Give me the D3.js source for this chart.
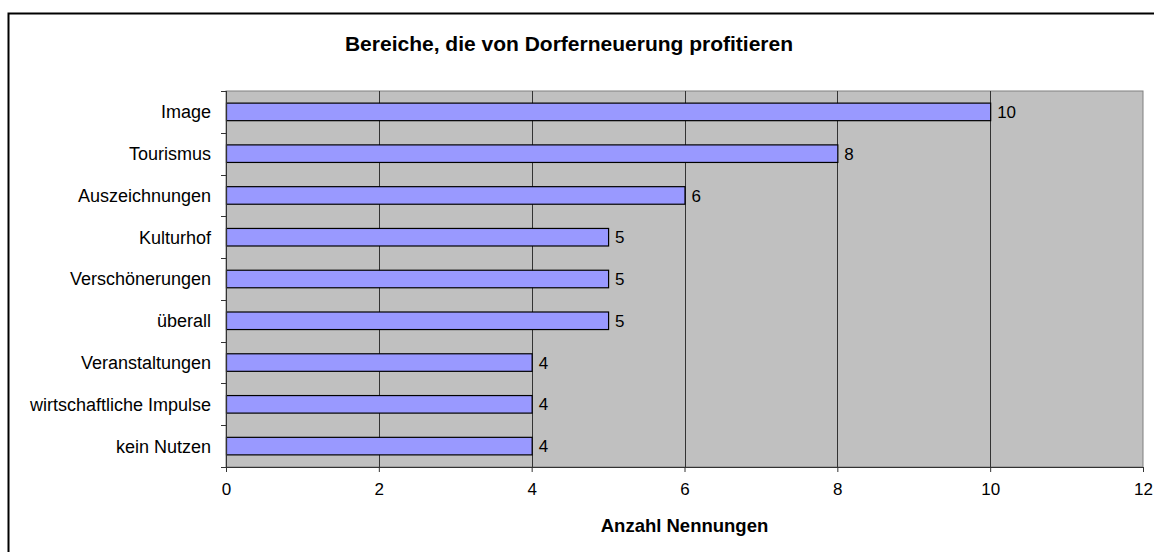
<!DOCTYPE html>
<html>
<head>
<meta charset="utf-8">
<script src="https://cdn.jsdelivr.net/npm/d3@7"></script>
<style>
  body { margin: 0; background: #fff; overflow: hidden; }
  svg { display: block; }
  text { font-family: "Liberation Sans", Arial, sans-serif; fill: #000; }
</style>
</head>
<body>
<div class="chart"></div>
<script>
var categories = ["Image", "Tourismus", "Auszeichnungen", "Kulturhof", "Verschönerungen",
  "überall", "Veranstaltungen", "wirtschaftliche Impulse", "kein Nutzen"];
var counts = [10, 8, 6, 5, 5, 5, 4, 4, 4];
var xTicks = [0, 2, 4, 6, 8, 10, 12];

var svgWidth = 1154;
var svgHeight = 552;
var margin = { top: 91, right: 11, bottom: 85, left: 226 };
var width = svgWidth - margin.left - margin.right;
var height = svgHeight - margin.top - margin.bottom;

var data = categories.map(function(c, i) { return { name: c, value: counts[i] }; });

var svg = d3.select(".chart")
  .append("svg")
  .attr("width", svgWidth)
  .attr("height", svgHeight);

// outer chart frame: only left and top edges are inside the picture
svg.append("path")
  .attr("d", "M8.5," + svgHeight + "V13.5H" + svgWidth)
  .attr("fill", "none").attr("stroke", "#000").attr("stroke-width", 2);

var chart = svg.append("g")
  .attr("transform", "translate(" + margin.left + "," + margin.top + ")");

var xScale = d3.scaleLinear().domain([0, 12]).range([0, width]);
var yScale = d3.scaleBand().domain(categories).range([0, height]).paddingInner(0.58).paddingOuter(0.29);

// plot background
chart.append("rect")
  .attr("width", width).attr("height", height)
  .attr("fill", "#c0c0c0").attr("stroke", "#808080");

// grid lines
chart.selectAll(".grid")
  .data(xTicks.slice(1, -1))
  .enter().append("line")
  .attr("x1", function(d) { return Math.round(xScale(d)) + 0.5; })
  .attr("x2", function(d) { return Math.round(xScale(d)) + 0.5; })
  .attr("y1", 0).attr("y2", height)
  .attr("stroke", "#333");

// bars
chart.selectAll(".bar")
  .data(data)
  .enter().append("rect")
  .attr("x", 0.5)
  .attr("y", function(d) { return yScale(d.name); })
  .attr("width", function(d) { return xScale(d.value); })
  .attr("height", yScale.bandwidth())
  .attr("fill", "#9999ff")
  .attr("stroke", "#000")
  .attr("stroke-width", 1.2);

// value labels
chart.selectAll(".val")
  .data(data)
  .enter().append("text")
  .attr("x", function(d) { return xScale(d.value) + 7; })
  .attr("y", function(d) { return yScale(d.name) + yScale.bandwidth() / 2; })
  .attr("dy", "0.36em")
  .style("font-size", "17px")
  .text(function(d) { return d.value; });

// x axis
var bottomAxis = d3.axisBottom(xScale).tickValues(xTicks).tickSize(5).tickPadding(11);
var gx = chart.append("g")
  .attr("transform", "translate(0," + height + ")")
  .call(bottomAxis);
gx.select(".domain").attr("stroke", "#333");
gx.selectAll(".tick line").attr("stroke", "#333");
gx.selectAll("text").style("font-size", "17px").style("font-family", "Liberation Sans, Arial, sans-serif");

// y axis with ticks between categories
var gy = chart.append("g");
gy.append("line").attr("x1", 0.5).attr("x2", 0.5).attr("y1", 0).attr("y2", height).attr("stroke", "#333");
gy.selectAll(".ytick")
  .data(d3.range(categories.length + 1))
  .enter().append("line")
  .attr("x1", -5).attr("x2", 0)
  .attr("y1", function(i) { return Math.round(i * height / categories.length) + 0.5; })
  .attr("y2", function(i) { return Math.round(i * height / categories.length) + 0.5; })
  .attr("stroke", "#333");
gy.selectAll(".ylab")
  .data(categories)
  .enter().append("text")
  .attr("x", -15)
  .attr("y", function(d) { return yScale(d) + yScale.bandwidth() / 2; })
  .attr("dy", "0.36em")
  .attr("text-anchor", "end")
  .style("font-size", "18px")
  .text(function(d) { return d; });

// titles
svg.append("text")
  .attr("x", 569).attr("y", 51)
  .attr("text-anchor", "middle")
  .style("font-size", "21px").style("font-weight", "bold")
  .text("Bereiche, die von Dorferneuerung profitieren");

svg.append("text")
  .attr("x", margin.left + width / 2).attr("y", 532)
  .attr("text-anchor", "middle")
  .style("font-size", "18.5px").style("font-weight", "bold")
  .text("Anzahl Nennungen");
</script>
</body>
</html>
